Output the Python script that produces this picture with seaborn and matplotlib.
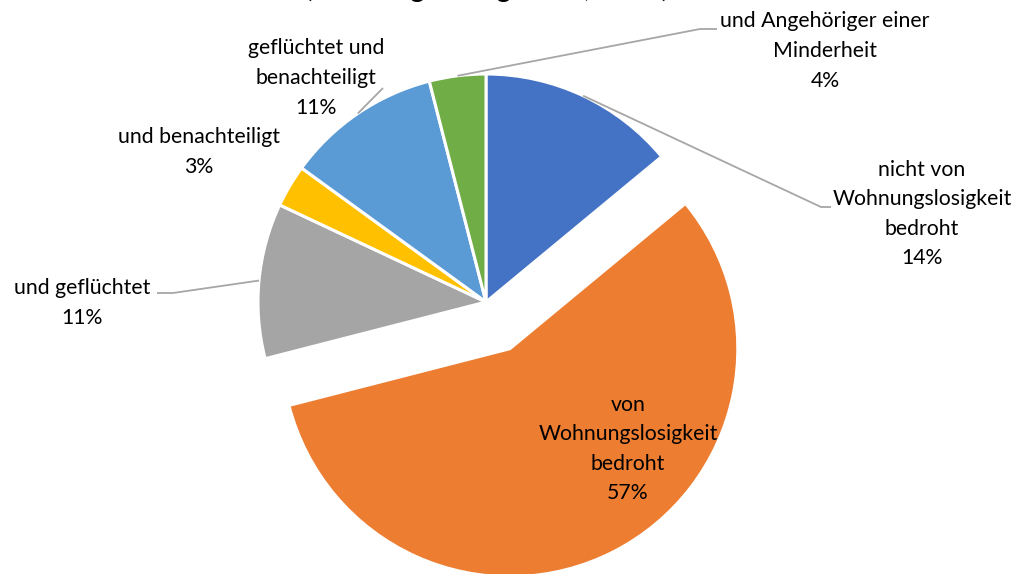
import numpy as np
import matplotlib
matplotlib.use("Agg")
import matplotlib.pyplot as plt
import seaborn as sns

# ------------------------------------------------------------
# Data
# ------------------------------------------------------------
categories = [
    "nicht von\nWohnungslosigkeit\nbedroht",
    "von\nWohnungslosigkeit\nbedroht",
    "und geflüchtet",
    "und benachteiligt",
    "geflüchtet und\nbenachteiligt",
    "und Angehöriger einer\nMinderheit",
]
shares = [14, 57, 11, 3, 11, 4]
slice_colors = ["#4472C4", "#ED7D31", "#A5A5A5", "#FFC000", "#5B9BD5", "#70AD47"]
title_text = "(Beratungen insgesamt, n=28)"

# ------------------------------------------------------------
# Layout (pixel coordinates, image y pointing down)
# ------------------------------------------------------------
W, H = 1021, 574
CX, CY, R = 486, 302, 228
explode = [0, 0.23 * R, 0, 0, 0, 0]   # pie() takes explode in data units here
# text centre of each label
label_pos = [(922, 214), (628, 449), (82, 303), (199, 152), (316, 78), (825, 51)]
# leader elbow points (None = no leader)
leader = [
    [(821, 207), (831, 207)],
    None,
    [(173, 293), (157, 293)],
    None,
    [(383, 88)],
    [(700, 29), (717, 29)],
]

sns.set_theme(style="white")
plt.rcParams['font.family'] = ['Lato', 'DejaVu Sans']

fig = plt.figure(figsize=(W / 100, H / 100), dpi=100)
ax = fig.add_axes([0, 0, 1, 1])

wedges, _ = ax.pie(
    shares,
    colors=sns.color_palette(slice_colors),
    explode=explode,
    startangle=90,
    counterclock=False,
    center=(CX, H - CY),
    radius=R,
    wedgeprops=dict(edgecolor="white", linewidth=2.2),
)
ax.set_xlim(0, W)
ax.set_ylim(0, H)
ax.set_aspect("equal")
ax.axis("off")

# Labels with percentages
for w, cat, val, (lx, ly), pts in zip(wedges, categories, shares, label_pos, leader):
    ax.text(lx, H - ly, f"{cat}\n{val}%", ha="center", va="center",
            fontsize=15.3, color="black", linespacing=1.6)
    if pts is None:
        continue
    mid = np.deg2rad((w.theta1 + w.theta2) / 2)
    x0 = w.center[0] + R * np.cos(mid)
    y0 = w.center[1] + R * np.sin(mid)
    xs = [x0] + [p[0] for p in pts]
    ys = [y0] + [H - p[1] for p in pts]
    ax.plot(xs, ys, color="#A6A6A6", linewidth=1.3, solid_capstyle="butt")

# Title sits above the visible area (only its descenders show in the reference)
fig.text(487 / W, 1 + 2.5 / H, title_text, ha="center", va="baseline",
         fontsize=20, color="black")

fig.savefig("out.png", dpi=100)
plt.close(fig)
